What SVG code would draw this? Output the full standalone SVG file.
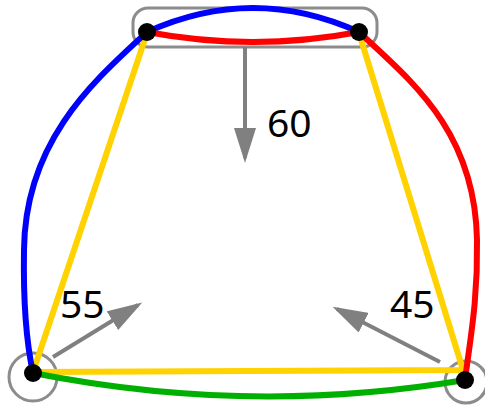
<svg xmlns="http://www.w3.org/2000/svg" width="485" height="405" viewBox="0 0 485 405">
<style>
.edge{fill:none;stroke-width:6;stroke-linecap:round;stroke-linejoin:round}
.outline{fill:none;stroke:#8c8c8c;stroke-width:3}
.force{fill:none;stroke:#808080;stroke-width:4}
.node{fill:#000}
.lbl{font-family:"Noto Sans","Liberation Sans",sans-serif;font-size:39px;fill:#000}
</style>
<defs>
<marker id="ah" viewBox="0 0 35 22" refX="30" refY="11" markerWidth="35" markerHeight="22" markerUnits="userSpaceOnUse" orient="auto">
<path d="M0,0 L35,11 L0,22 Z" fill="#808080"/>
</marker>
</defs>
<g id="outlines">
<rect class="outline" x="133" y="8" width="244" height="39" rx="15"/>
<circle class="outline" cx="33" cy="377" r="24"/>
<circle class="outline" cx="466" cy="382" r="21"/>
</g>
<g id="connectors">
<polyline class="edge" stroke="#ffd200" points="359,33 463,370 33,372 147,33"/>
<path class="edge" stroke="#00b000" d="M33,373 Q250,416 465,380"/>
<path class="edge" stroke="#0000ff" d="M147,32 Q253,-16 359,32"/>
<path class="edge" stroke="#ff0000" d="M147,32 Q253,52 359,32"/>
<path class="edge" stroke="#0000ff" d="M147,32 C95,80 25,140 24,250 C23,310 28,350 33,373"/>
<path class="edge" stroke="#ff0000" d="M359,32 C410,80 475,130 477,240 C478,300 470,340 465,380"/>
</g>
<g id="forces">
<line class="force" x1="245" y1="47" x2="245" y2="158" marker-end="url(#ah)"/>
<line class="force" x1="53" y1="357" x2="138" y2="305" marker-end="url(#ah)"/>
<line class="force" x1="440" y1="362" x2="337" y2="309" marker-end="url(#ah)"/>
<text class="lbl" x="267" y="137">60</text>
<text class="lbl" x="60" y="318">55</text>
<text class="lbl" x="390" y="318">45</text>
</g>
<g id="n-tl"><circle class="node" cx="147" cy="32" r="9"/></g>
<g id="n-tr"><circle class="node" cx="359" cy="32" r="9"/></g>
<g id="n-bl"><circle class="node" cx="33" cy="373" r="9"/></g>
<g id="n-br"><circle class="node" cx="465" cy="380" r="9"/></g>
</svg>
